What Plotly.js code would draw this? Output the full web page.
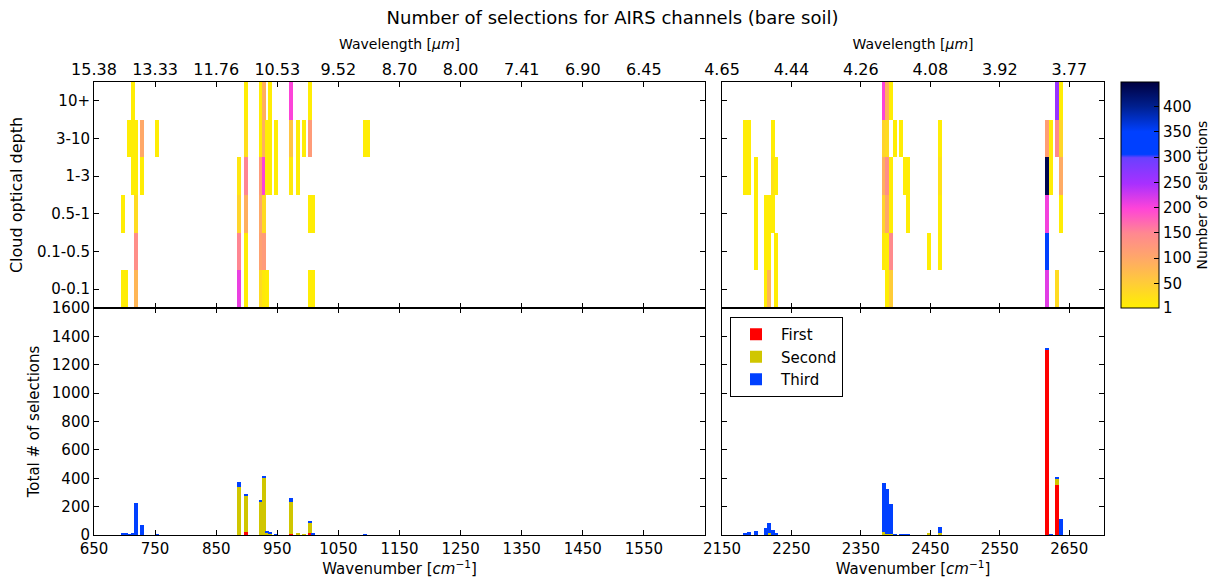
<!DOCTYPE html>
<html>
<head>
<meta charset="utf-8">
<script src="https://cdn.plot.ly/plotly-3.0.1.min.js"></script>
<style>html,body{margin:0;padding:0;background:#fff;}#chart{width:1225px;height:583px;}</style>
</head>
<body>
<div id="chart"></div>
<script>
// ---------------- DATA ----------------
const depthCategories = ['0-0.1', '0.1-0.5', '0.5-1', '1-3', '3-10', '10+'];

const wavenumbers = [697.2, 702.9, 708.0, 713.5, 719.0, 728.6, 753.0, 887.3, 898.5, 922.5,
  928.2, 932.8, 938.0, 947.9, 972.4, 983.9, 993.7, 1003.5, 1008.4, 1093.0,
  1099.0, 2183.1, 2188.8, 2198.9, 2213.3, 2217.6, 2223.4, 2227.7, 2382.7, 2387.7,
  2393.2, 2399.4, 2407.1, 2412.9, 2417.6, 2447.8, 2463.7, 2617.6, 2623.4, 2632.7,
  2637.8];

// selections per cloud optical depth class
const cod_0_01   = [5, 5, 0, 0, 80, 0, 0, 210, 5, 30, 10, 5, 0, 0, 0, 0, 0, 5, 5, 0, 0, 0, 0, 0, 5, 80, 0, 5, 0, 5, 50, 0, 0, 0, 0, 0, 0, 215, 0, 30, 0];
const cod_01_05  = [0, 0, 0, 0, 140, 0, 0, 150, 5, 110, 120, 0, 0, 0, 0, 0, 0, 0, 0, 0, 0, 0, 0, 5, 5, 5, 0, 5, 10, 5, 145, 0, 0, 0, 0, 5, 5, 320, 0, 0, 0];
const cod_05_1   = [5, 0, 0, 0, 30, 0, 0, 40, 90, 100, 30, 0, 0, 0, 0, 0, 0, 5, 5, 0, 0, 0, 0, 5, 5, 5, 5, 0, 40, 100, 5, 0, 0, 0, 5, 0, 5, 205, 0, 0, 5];
const cod_1_3    = [0, 0, 0, 5, 5, 5, 0, 15, 150, 120, 200, 5, 5, 5, 10, 5, 0, 0, 0, 0, 0, 5, 5, 5, 0, 0, 20, 5, 90, 140, 5, 0, 0, 5, 5, 0, 20, 440, 5, 0, 95];
const cod_3_10   = [0, 0, 5, 5, 5, 100, 5, 0, 25, 5, 90, 5, 5, 5, 60, 5, 5, 120, 0, 5, 5, 5, 5, 0, 0, 0, 5, 0, 40, 30, 0, 5, 5, 0, 0, 0, 5, 115, 5, 145, 35];
const cod_10plus = [0, 0, 0, 5, 0, 0, 0, 0, 5, 5, 90, 0, 5, 0, 200, 0, 0, 5, 0, 0, 0, 0, 0, 0, 0, 0, 0, 0, 200, 90, 5, 0, 0, 0, 0, 0, 0, 0, 0, 260, 5];
const depthCounts = [cod_0_01, cod_01_05, cod_05_1, cod_1_3, cod_3_10, cod_10plus];

// total selections by rank
const firstSel  = [0, 0, 0, 0, 0, 0, 0, 0, 23, 0, 0, 0, 0, 0, 7, 0, 0, 14, 0, 0, 0, 0, 0, 0, 0, 0, 0, 0, 0, 0, 0, 0, 0, 0, 0, 0, 0, 1304, 0, 352, 0];
const secondSel = [0, 4, 0, 0, 0, 0, 0, 336, 256, 237, 404, 20, 8, 0, 223, 9, 7, 71, 0, 0, 0, 0, 0, 0, 0, 12, 0, 0, 21, 7, 10, 0, 0, 0, 0, 10, 12, 0, 0, 47, 0];
const thirdSel  = [8, 8, 4, 15, 228, 73, 5, 40, 7, 7, 14, 3, 8, 7, 28, 0, 0, 9, 12, 5, 0, 14, 20, 28, 49, 73, 35, 14, 345, 317, 211, 5, 5, 7, 7, 0, 44, 12, 7, 12, 113];

const leftTicks  = [650, 750, 850, 950, 1050, 1150, 1250, 1350, 1450, 1550];
const rightTicks = [2150, 2250, 2350, 2450, 2550, 2650];
const leftWavelengthLabels  = ['15.38', '13.33', '11.76', '10.53', '9.52', '8.70', '8.00', '7.41', '6.90', '6.45'];
const rightWavelengthLabels = ['4.65', '4.44', '4.26', '4.08', '3.92', '3.77'];
const countTicks = [0, 200, 400, 600, 800, 1000, 1200, 1400, 1600];
const colorTicks = [1, 50, 100, 150, 200, 250, 300, 350, 400];

// ---------------- BUILD ----------------
const W = 1225, H = 583;
const fx = p => p / W, fy = p => 1 - p / H;
const FONT = 'DejaVu Sans, Liberation Sans, sans-serif';

const panels = [
  {name: 'left',  sel: w => w < 2000, xa: 'x',  ya: 'y',  xb: 'x3', yb: 'y3', width: 6.5},
  {name: 'right', sel: w => w >= 2000, xa: 'x2', ya: 'y2', xb: 'x4', yb: 'y4', width: 5.8}
];

const traces = [];
panels.forEach(p => {
  const idx = wavenumbers.map((w, i) => i).filter(i => p.sel(wavenumbers[i]));
  // heat cells
  depthCounts.forEach((arr, r) => {
    const ii = idx.filter(i => arr[i] > 0);
    traces.push({
      type: 'bar', xaxis: p.xa, yaxis: p.ya,
      x: ii.map(i => wavenumbers[i]),
      y: ii.map(() => 1),
      base: ii.map(() => r - 0.5),
      width: p.width,
      marker: {color: ii.map(i => arr[i]), coloraxis: 'coloraxis', line: {width: 0}},
      customdata: ii.map(i => arr[i]),
      hovertemplate: depthCategories[r] + '<br>%{x}: %{customdata}<extra></extra>',
      showlegend: false
    });
  });
  // stacked totals
  const series = [
    {name: 'First', vals: firstSel, color: '#FF0000'},
    {name: 'Second', vals: secondSel, color: '#D0C600'},
    {name: 'Third', vals: thirdSel, color: '#0040FF'}
  ];
  const cum = idx.map(() => 0);
  series.forEach(s => {
    traces.push({
      type: 'bar', xaxis: p.xb, yaxis: p.yb, name: s.name,
      x: idx.map(i => wavenumbers[i]),
      y: idx.map(i => s.vals[i]),
      base: cum.slice(),
      width: p.width,
      marker: {color: s.color, line: {width: 0}},
      showlegend: p.name === 'right',
      legendgroup: s.name
    });
    idx.forEach((i, k) => { cum[k] += s.vals[i]; });
  });
});
// placeholders so the top wavelength axes are drawn
traces.push({type: 'scatter', xaxis: 'x5', yaxis: 'y', x: [], y: [], showlegend: false, hoverinfo: 'skip'});
traces.push({type: 'scatter', xaxis: 'x6', yaxis: 'y2', x: [], y: [], showlegend: false, hoverinfo: 'skip'});

const axBase = {
  showline: true, linecolor: '#000', linewidth: 1, mirror: 'ticks',
  ticks: 'inside', ticklen: 5, tickcolor: '#000', tickwidth: 1,
  showgrid: false, zeroline: false, fixedrange: true,
  tickfont: {family: FONT, size: 15, color: '#000'}
};
const xL = [fx(94), fx(705)], xR = [fx(722), fx(1104)];
const yT = [fy(308), fy(82)], yB = [fy(535), fy(308)];
const ttl = (t, s) => ({text: t, font: {family: FONT, size: s || 15, color: '#000'}});
const topTickFont = {family: FONT, size: 16, color: '#000'};

const layout = {
  width: W, height: H,
  margin: {l: 0, r: 0, t: 0, b: 0},
  paper_bgcolor: '#fff', plot_bgcolor: '#fff',
  barmode: 'overlay', bargap: 0,
  font: {family: FONT, color: '#000'},
  title: {text: 'Number of selections for AIRS channels (bare soil)', x: 0.5, xanchor: 'center',
          y: fy(18), yanchor: 'middle', font: {family: FONT, size: 18, color: '#000'}},
  xaxis:  Object.assign({}, axBase, {domain: xL, range: [650, 1650], anchor: 'y', tickvals: leftTicks, showticklabels: false}),
  xaxis2: Object.assign({}, axBase, {domain: xR, range: [2150, 2700], anchor: 'y2', tickvals: rightTicks, showticklabels: false}),
  xaxis3: Object.assign({}, axBase, {domain: xL, range: [650, 1650], anchor: 'y3', tickvals: leftTicks,
           title: Object.assign(ttl('Wavenumber [<i>cm</i><sup>−1</sup>]'), {standoff: 6})}),
  xaxis4: Object.assign({}, axBase, {domain: xR, range: [2150, 2700], anchor: 'y4', tickvals: rightTicks,
           title: Object.assign(ttl('Wavenumber [<i>cm</i><sup>−1</sup>]'), {standoff: 6})}),
  xaxis5: Object.assign({}, axBase, {overlaying: 'x', side: 'top', anchor: 'y', range: [650, 1650], mirror: false,
           tickvals: leftTicks, ticktext: leftWavelengthLabels, tickfont: topTickFont,
           title: Object.assign(ttl('Wavelength [<i>μm</i>]', 14), {standoff: 6})}),
  xaxis6: Object.assign({}, axBase, {overlaying: 'x2', side: 'top', anchor: 'y2', range: [2150, 2700], mirror: false,
           tickvals: rightTicks, ticktext: rightWavelengthLabels, tickfont: topTickFont,
           title: Object.assign(ttl('Wavelength [<i>μm</i>]', 14), {standoff: 6})}),
  yaxis:  Object.assign({}, axBase, {domain: yT, range: [-0.5, 5.5], anchor: 'x', tickvals: [0, 1, 2, 3, 4, 5],
           ticktext: depthCategories, title: Object.assign(ttl('Cloud optical depth', 16), {standoff: 10})}),
  yaxis2: Object.assign({}, axBase, {domain: yT, range: [-0.5, 5.5], anchor: 'x2', tickvals: [0, 1, 2, 3, 4, 5],
           showticklabels: false}),
  yaxis3: Object.assign({}, axBase, {domain: yB, range: [0, 1600], anchor: 'x3', tickvals: countTicks,
           title: Object.assign(ttl('Total # of selections', 15), {standoff: 8})}),
  yaxis4: Object.assign({}, axBase, {domain: yB, range: [0, 1600], anchor: 'x4', tickvals: countTicks,
           showticklabels: false}),
  coloraxis: {
    cmin: 1, cmax: 449,
    colorscale: [
      [0.00, '#FFF000'], [0.11, '#FFCC38'], [0.22, '#FFA868'], [0.33, '#FF8890'],
      [0.44, '#FF44D8'], [0.55, '#A830FF'], [0.665, '#6A40FF'], [0.68, '#0040FF'],
      [0.78, '#0040FF'], [0.89, '#002090'], [1.00, '#000040']
    ],
    colorbar: {
      x: fx(1121), xanchor: 'left', y: fy(308), yanchor: 'bottom',
      len: 226 / H, lenmode: 'fraction', thickness: 38, thicknessmode: 'pixels',
      xpad: 0, ypad: 0, outlinewidth: 1, outlinecolor: '#000',
      tickvals: colorTicks, ticks: 'inside', ticklen: 5, tickcolor: '#000',
      tickfont: {family: FONT, size: 15, color: '#000'},
      title: {text: 'Number of selections', side: 'right', font: {family: FONT, size: 14, color: '#000'}}
    }
  },
  legend: {
    x: fx(730), y: fy(317), xanchor: 'left', yanchor: 'top',
    bgcolor: '#fff', bordercolor: '#000', borderwidth: 1,
    font: {family: FONT, size: 15, color: '#000'}, traceorder: 'normal',
    itemwidth: 40
  }
};

Plotly.newPlot('chart', traces, layout, {displayModeBar: false, staticPlot: false});
</script>
</body>
</html>
